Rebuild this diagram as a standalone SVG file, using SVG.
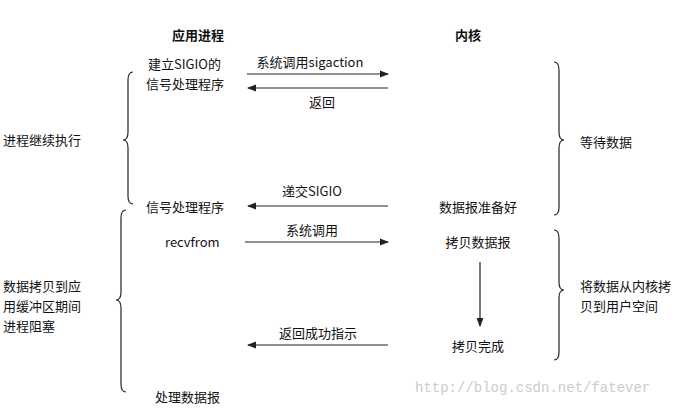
<svg xmlns="http://www.w3.org/2000/svg" width="698" height="408" viewBox="0 0 698 408">
<style>
text{font-family:"Noto Sans CJK SC","Liberation Serif",serif;font-size:13px;fill:#111}
.b{font-weight:bold}
.c{text-anchor:middle}
.l{stroke:#222;stroke-width:1.2;fill:none}
.br{stroke:#222;stroke-width:1.2;fill:none}
</style>
<defs><marker id="a" markerWidth="8" markerHeight="6" refX="7" refY="3" orient="auto"><path d="M0,0L8,3L0,6z" fill="#222"/></marker></defs>
<rect width="698" height="408" fill="#fff"/>
<g id="headers"><text class="b c" x="198" y="40">应用进程</text><text class="b c" x="468" y="40">内核</text></g>
<g id="left-labels">
<text x="3" y="145">进程继续执行</text>
<text x="3" y="291">数据拷贝到应</text><text x="3" y="311">用缓冲区期间</text><text x="3" y="331">进程阻塞</text>
</g>
<g id="right-labels">
<text x="580" y="147">等待数据</text>
<text x="580" y="291">将数据从内核拷</text><text x="580" y="311">贝到用户空间</text>
</g>
<g id="app">
<text x="148" y="69">建立SIGIO的</text><text x="146" y="89">信号处理程序</text>
<text x="146" y="212">信号处理程序</text>
<text x="165" y="247">recvfrom</text>
<text x="155" y="402">处理数据报</text>
</g>
<g id="kernel">
<text class="c" x="478" y="212">数据报准备好</text>
<text class="c" x="478" y="247">拷贝数据报</text>
<text class="c" x="478" y="351">拷贝完成</text>
</g>
<g id="braces">
<path class="br" d="M133,72 Q128,72 128,80 L128,132 Q128,140 123,140 Q128,140 128,148 L128,196 Q128,204 133,204"/>
<path class="br" d="M126,210 Q121,210 121,218 L121,292 Q121,300 116,300 Q121,300 121,308 L121,384 Q121,392 126,392"/>
<path class="br" d="M554,62 Q559,62 559,70 L559,132 Q559,140 564,140 Q559,140 559,148 L559,207 Q559,215 554,215"/>
<path class="br" d="M554,230 Q559,230 559,238 L559,282 Q559,290 564,290 Q559,290 559,298 L559,352 Q559,360 554,360"/>
</g>
<g id="connectors">
<line class="l" x1="247" y1="74" x2="388" y2="74" marker-end="url(#a)"/>
<line class="l" x1="388" y1="88" x2="248" y2="88" marker-end="url(#a)"/>
<line class="l" x1="388" y1="206" x2="248" y2="206" marker-end="url(#a)"/>
<line class="l" x1="245" y1="242" x2="388" y2="242" marker-end="url(#a)"/>
<line class="l" x1="388" y1="345" x2="248" y2="345" marker-end="url(#a)"/>
<line class="l" x1="480" y1="262" x2="480" y2="326" marker-end="url(#a)"/>
<text class="c" x="310" y="67">系统调用sigaction</text>
<text class="c" x="322" y="107">返回</text>
<text class="c" x="312" y="196">递交SIGIO</text>
<text class="c" x="312" y="235">系统调用</text>
<text class="c" x="318" y="338">返回成功指示</text>
</g>
<text x="415" y="392" style="font-family:'Liberation Mono',monospace;font-size:14px;fill:#ccc">http://blog.csdn.net/fatever</text>
</svg>
